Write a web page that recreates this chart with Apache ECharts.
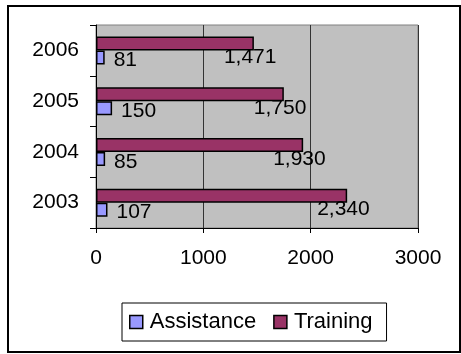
<!DOCTYPE html>
<html>
<head>
<meta charset="utf-8">
<script src="https://cdn.jsdelivr.net/npm/echarts@6/dist/echarts.min.js"></script>
<style>
  html, body { margin: 0; padding: 0; background: #fff; }
  #main { width: 461px; height: 354px; }
</style>
</head>
<body>
<div id="main"></div>
<script>
// data
var years = ['2003', '2004', '2005', '2006'];
var assistance = [107, 85, 150, 81];
var training = [2340, 1930, 1750, 1471];
var xTicks = [0, 1000, 2000, 3000];

var font = "'Liberation Sans', Arial, sans-serif";

function commas(v) {
  return String(v).replace(/\B(?=(\d{3})+(?!\d))/g, ',');
}

var myChart = echarts.init(document.getElementById('main'));

// in a horizontal bar chart the first series sits on top of the pair,
// so Training goes first; the legend keeps Assistance first
var option = {
  animation: false,
  textStyle: { fontFamily: font, color: '#000' },
  graphic: [{
    type: 'rect',
    shape: { x: 8, y: 6, width: 452, height: 346 },
    style: { fill: 'none', stroke: '#000', lineWidth: 2 },
    silent: true
  }],
  grid: {
    left: 96, right: 43, top: 25, bottom: 126,
    show: true,
    backgroundColor: '#c0c0c0',
    borderColor: '#808080',
    borderWidth: 1
  },
  legend: {
    left: 122, top: 303,
    padding: [8, 14, 8, 7],
    borderColor: '#000',
    borderWidth: 1,
    itemGap: 17,
    itemWidth: 13,
    itemHeight: 13,
    icon: 'rect',
    itemStyle: { borderColor: '#000', borderWidth: 1.5 },
    textStyle: { fontSize: 22, fontFamily: font, color: '#000', padding: [0, 0, 0, 2] },
    data: ['Assistance', 'Training']
  },
  xAxis: {
    type: 'value',
    min: xTicks[0],
    max: xTicks[xTicks.length - 1],
    interval: xTicks[1] - xTicks[0],
    axisLine: { show: true, lineStyle: { color: '#000', width: 1 } },
    axisTick: { show: true, length: 5, lineStyle: { color: '#000' } },
    axisLabel: {
      fontSize: 21, color: '#000', fontFamily: font, margin: 20,
      formatter: function (v) { return String(v); }
    },
    splitLine: { show: true, lineStyle: { color: '#333', width: 1 } }
  },
  yAxis: {
    type: 'category',
    data: years,
    axisLine: { show: true, lineStyle: { color: '#000', width: 1 } },
    axisTick: { show: true, length: 6, lineStyle: { color: '#000' } },
    axisLabel: { fontSize: 21, color: '#000', fontFamily: font, margin: 17 }
  },
  series: [{
    name: 'Training',
    type: 'bar',
    data: training,
    barWidth: 14,
    barGap: '0%',
    itemStyle: { color: '#993366', borderColor: '#000', borderWidth: 1.5 },
    label: {
      show: true, position: 'right', distance: 0, offset: [-30, 14],
      fontSize: 21, color: '#000', fontFamily: font,
      formatter: function (p) { return commas(p.value); }
    }
  }, {
    name: 'Assistance',
    type: 'bar',
    data: assistance,
    barWidth: 14,
    barGap: '0%',
    itemStyle: { color: '#9999ff', borderColor: '#000', borderWidth: 1.5 },
    label: {
      show: true, position: 'right', distance: 9, offset: [0, 3],
      fontSize: 21, color: '#000', fontFamily: font,
      formatter: function (p) { return commas(p.value); }
    }
  }]
};

myChart.setOption(option);
</script>
</body>
</html>
